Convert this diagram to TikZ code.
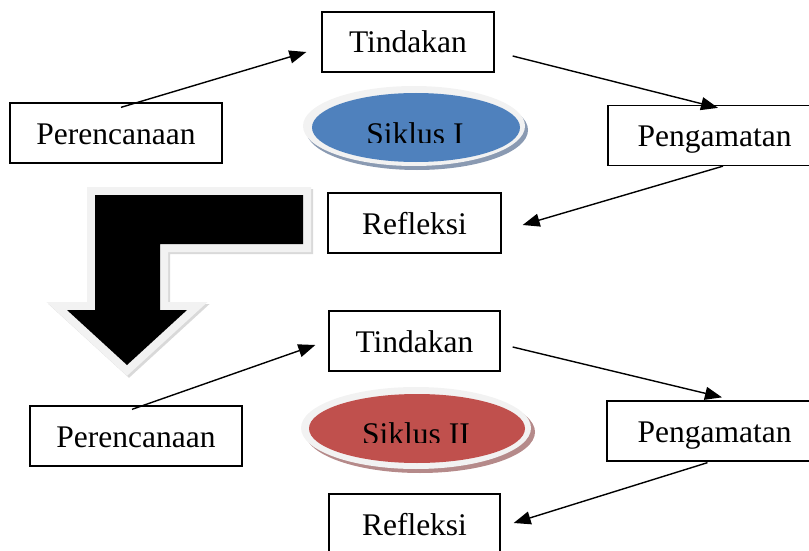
\documentclass[tikz,border=0pt]{standalone}
\usepackage{fontspec}
\setmainfont{Liberation Serif}
\usetikzlibrary{arrows.meta}
\definecolor{ringgray}{HTML}{F2F2F2}
\definecolor{blueI}{HTML}{4F81BD}
\definecolor{redII}{HTML}{C0504D}
\definecolor{shadowI}{HTML}{8A9AB2}
\definecolor{shadowII}{HTML}{B58A8A}
\begin{document}
\begin{tikzpicture}[x=1pt,y=-1pt,
  txt/.style={font=\fontsize{31.5}{36}\selectfont, text height=22pt, text depth=0pt},
  box/.style={txt, draw=black, line width=1.3pt, fill=white, inner sep=0pt, minimum height=60pt},
  conn/.style={line width=1.4pt, -{Triangle[length=17pt,width=13pt]}},
  ringpath/.style={line width=16pt, miter limit=10, line join=miter}
  ]
\useasboundingbox (0,0) rectangle (809,551);

% big bent arrow
\draw[ringpath, draw=gray!30, shift={(2,2)}] (95,195) -- (303,195) -- (303,244) -- (160,244) -- (160,310) -- (187,310) -- (127,365) -- (67,310) -- (95,310) -- cycle;
\draw[ringpath, draw=ringgray] (95,195) -- (303,195) -- (303,244) -- (160,244) -- (160,310) -- (187,310) -- (127,365) -- (67,310) -- (95,310) -- cycle;
\fill[black] (95,195) -- (303,195) -- (303,244) -- (160,244) -- (160,310) -- (187,310) -- (127,365) -- (67,310) -- (95,310) -- cycle;

% ellipse Siklus I
\fill[shadowI, shift={(3,4)}] (414,126) ellipse [x radius=111, y radius=40];
\fill[ringgray] (414,126) ellipse [x radius=111, y radius=40];
\fill[blueI] (416,127.5) ellipse [x radius=104, y radius=34.5];
\begin{scope}
  \clip (300,100) rectangle (530,142);
  \node[txt, anchor=base, inner sep=0pt] (s1) at (415,144) {Siklus I};
\end{scope}

% ellipse Siklus II
\fill[shadowII, shift={(4,4)}] (416,428) ellipse [x radius=115, y radius=41];
\fill[ringgray] (416,428) ellipse [x radius=115, y radius=41];
\fill[redII] (417,428.5) ellipse [x radius=108, y radius=34.5];
\begin{scope}
  \clip (300,400) rectangle (535,442);
  \node[txt, anchor=base, inner sep=0pt] (s2) at (416,444) {Siklus II};
\end{scope}

% cycle I boxes
\node[box, minimum width=172pt] (t1) at (408,42) {Tindakan};
\node[box, minimum width=212pt] (p1) at (116,133) {Perencanaan};
\node[box, minimum width=213pt] (g1) at (714.5,135.5) {Pengamatan};
\node[box, minimum width=173pt] (r1) at (414.5,223) {Refleksi};

% cycle II boxes
\node[box, minimum width=171pt] (t2) at (414.5,341) {Tindakan};
\node[box, minimum width=212pt] (p2) at (136,436) {Perencanaan};
\node[box, minimum width=215pt] (g2) at (714.5,431) {Pengamatan};
\node[box, minimum width=171pt] (r2) at (414.5,524) {Refleksi};

% connectors cycle I
\draw[conn] ([xshift=5pt,yshift=-5pt]p1.north) -- ([xshift=-15pt,yshift=-10pt]t1.west);
\draw[conn] ([xshift=18pt,yshift=-14pt]t1.east) -- ([xshift=3.5pt,yshift=-3pt]g1.north);
\draw[conn] ([xshift=8.5pt]g1.south) -- ([xshift=21pt,yshift=-2pt]r1.east);

% connectors cycle II
\draw[conn] ([xshift=-4pt,yshift=-4pt]p2.north) -- ([xshift=-13pt,yshift=-4pt]t2.west);
\draw[conn] ([xshift=12pt,yshift=-6pt]t2.east) -- ([xshift=7.5pt,yshift=3pt]g2.north);
\draw[conn] ([xshift=-7pt,yshift=-1pt]g2.south) -- ([xshift=13pt,yshift=1pt]r2.east);
\end{tikzpicture}
\end{document}
